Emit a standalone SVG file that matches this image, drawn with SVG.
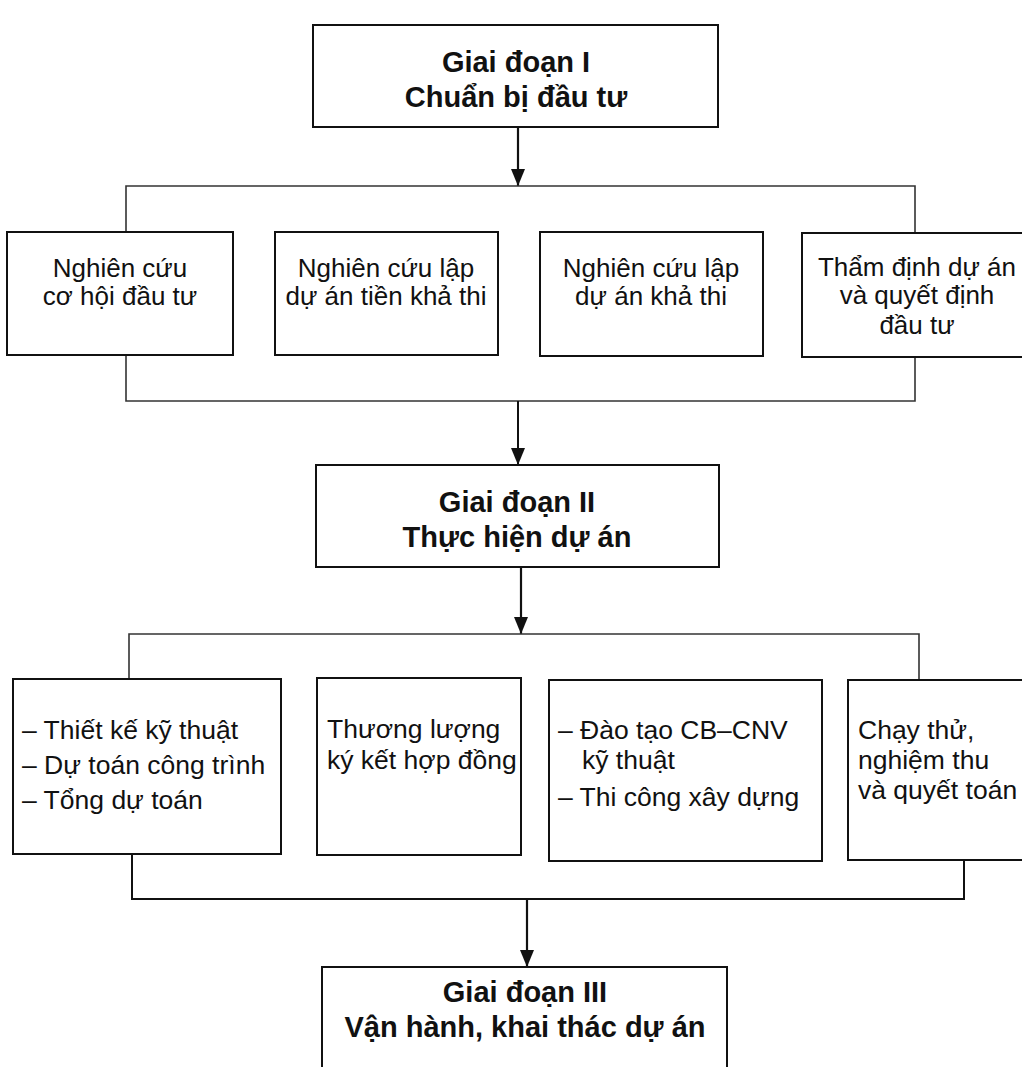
<svg xmlns="http://www.w3.org/2000/svg" width="1022" height="1067" viewBox="0 0 1022 1067">
  <style>
    .box { fill: #ffffff; stroke: #111111; stroke-width: 2; }
    .wire { fill: none; stroke: #333333; stroke-width: 1.6; }
    .flow { fill: none; stroke: #111111; stroke-width: 2.2; }
    .head { font-family: "Liberation Sans", Arial, "DejaVu Sans", sans-serif; font-weight: bold; font-size: 29px; fill: #111111; text-anchor: middle; }
    .body { font-family: "Liberation Sans", Arial, "DejaVu Sans", sans-serif; font-size: 26px; fill: #111111; }
    .mid { text-anchor: middle; }
    .b27 { font-size: 26.5px; }
  </style>
  <defs>
    <!-- filled triangular arrowhead, drawn along +x so orient="auto" follows the line -->
    <marker id="arrow" markerUnits="userSpaceOnUse" markerWidth="17" markerHeight="15" refX="17" refY="7.5" orient="auto" viewBox="0 0 17 15">
      <path d="M0,0.5 L17,7.5 L0,14.5 Z" fill="#111111"/>
    </marker>
  </defs>
  <rect width="1022" height="1067" fill="#ffffff"/>

  <!-- connectors -->
  <g id="connectors">
    <!-- stage I to preparation steps -->
    <path class="flow" d="M518,127 V186" marker-end="url(#arrow)"/>
    <path class="wire" d="M126,232 V186 H915 V233"/>
    <!-- preparation steps to stage II -->
    <path class="wire" d="M126,355 V401 H915 V357"/>
    <path class="flow" d="M518,401 V465" marker-end="url(#arrow)" style="stroke-width:2"/>
    <!-- stage II to execution steps -->
    <path class="flow" d="M521,567 V634" marker-end="url(#arrow)"/>
    <path class="wire" d="M129,679 V634 H919 V680"/>
    <!-- execution steps to stage III -->
    <path class="wire" d="M132,854 V899 H964 V861" style="stroke:#111;stroke-width:2"/>
    <path class="flow" d="M527,899 V967" marker-end="url(#arrow)"/>
  </g>

  <!-- stage I -->
  <g id="stage1">
    <rect class="box" x="313" y="25" width="405" height="102"/>
    <text class="head" x="516" y="72">Giai đoạn I</text>
    <text class="head" x="516" y="107">Chuẩn bị đầu tư</text>
  </g>

  <!-- preparation steps -->
  <g id="prep1">
    <rect class="box" x="7" y="232" width="226" height="123"/>
    <text class="body mid" x="120" y="277">Nghiên cứu</text>
    <text class="body mid" x="120" y="305">cơ hội đầu tư</text>
  </g>
  <g id="prep2">
    <rect class="box" x="275" y="232" width="223" height="123"/>
    <text class="body mid" x="386" y="277">Nghiên cứu lập</text>
    <text class="body mid" x="386" y="305">dự án tiền khả thi</text>
  </g>
  <g id="prep3">
    <rect class="box" x="540" y="232" width="223" height="124"/>
    <text class="body mid" x="651" y="277">Nghiên cứu lập</text>
    <text class="body mid" x="651" y="305">dự án khả thi</text>
  </g>
  <g id="prep4">
    <rect class="box" x="802" y="233" width="230" height="124"/>
    <text class="body mid" x="917" y="276">Thẩm định dự án</text>
    <text class="body mid" x="917" y="304">và quyết định</text>
    <text class="body mid" x="917" y="334">đầu tư</text>
  </g>

  <!-- stage II -->
  <g id="stage2">
    <rect class="box" x="316" y="465" width="403" height="102"/>
    <text class="head" x="517" y="512">Giai đoạn II</text>
    <text class="head" x="517" y="547">Thực hiện dự án</text>
  </g>

  <!-- execution steps -->
  <g id="exec1">
    <rect class="box" x="13" y="679" width="268" height="175"/>
    <text class="body b27" x="22" y="739">– Thiết kế kỹ thuật</text>
    <text class="body b27" x="22" y="774">– Dự toán công trình</text>
    <text class="body b27" x="22" y="809">– Tổng dự toán</text>
  </g>
  <g id="exec2">
    <rect class="box" x="317" y="678" width="204" height="177"/>
    <text class="body b27" x="327" y="738">Thương lượng</text>
    <text class="body b27" x="327" y="769">ký kết hợp đồng</text>
  </g>
  <g id="exec3">
    <rect class="box" x="549" y="680" width="273" height="181"/>
    <text class="body b27" x="558" y="739">– Đào tạo CB–CNV</text>
    <text class="body b27" x="582" y="769">kỹ thuật</text>
    <text class="body b27" x="558" y="806">– Thi công xây dựng</text>
  </g>
  <g id="exec4">
    <rect class="box" x="848" y="680" width="184" height="180"/>
    <text class="body b27" x="858" y="739">Chạy thử,</text>
    <text class="body b27" x="858" y="769">nghiệm thu</text>
    <text class="body b27" x="858" y="799">và quyết toán</text>
  </g>

  <!-- stage III -->
  <g id="stage3">
    <rect class="box" x="322" y="967" width="405" height="115"/>
    <text class="head" x="525" y="1002">Giai đoạn III</text>
    <text class="head" x="525" y="1037">Vận hành, khai thác dự án</text>
  </g>
</svg>
